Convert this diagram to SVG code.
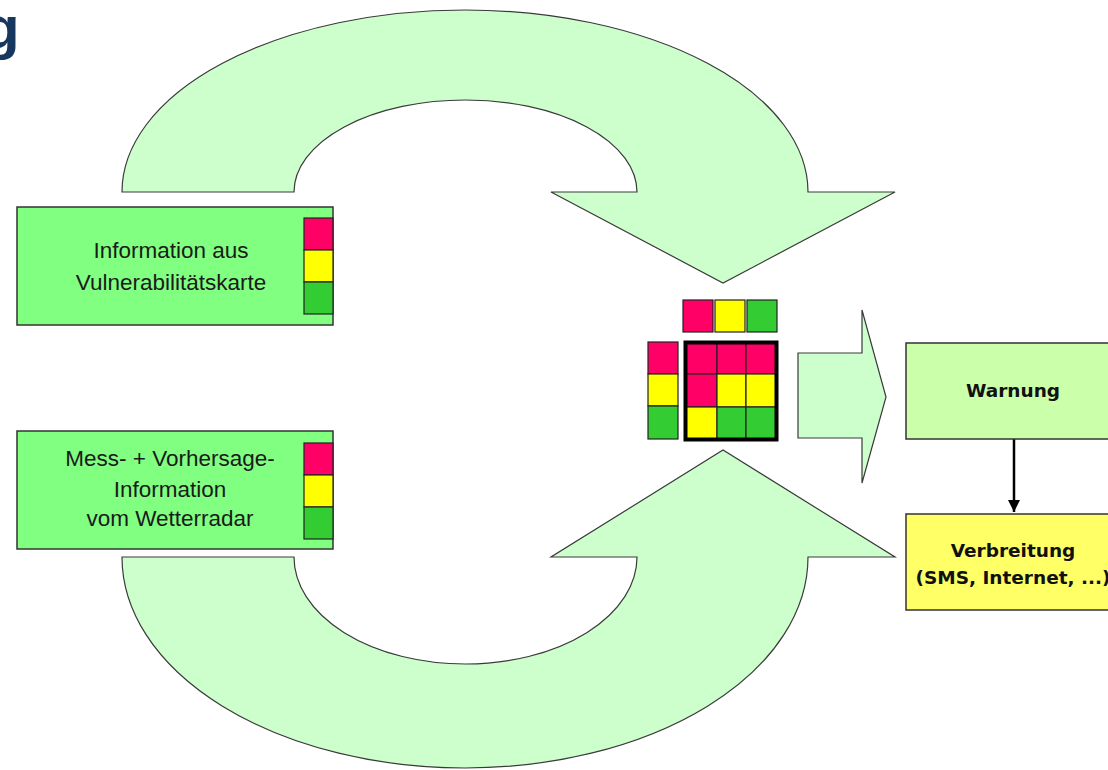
<svg xmlns="http://www.w3.org/2000/svg" width="1108" height="770" viewBox="0 0 1108 770">
<defs>
<style>
.arrow{fill:#CCFFCC;stroke:#3a3a3a;stroke-width:1.2}
.src{fill:#80FF80;stroke:#333;stroke-width:1.5}
.r{fill:#FF0066;stroke:#222;stroke-width:1.2}
.y{fill:#FFFF00;stroke:#222;stroke-width:1.2}
.g{fill:#33CC33;stroke:#222;stroke-width:1.2}
.lbl{font-family:"Liberation Sans",Arial,sans-serif;font-size:22.5px;fill:#1a1a1a;text-anchor:middle}
.bold{font-family:"DejaVu Sans",Verdana,sans-serif;font-weight:bold;font-size:18.5px;fill:#111;text-anchor:middle}
</style>
<marker id="ah" viewBox="0 0 10 10" refX="10" refY="5" markerWidth="5" markerHeight="5" orient="auto" markerUnits="strokeWidth">
<path d="M0,0 L10,5 L0,10 Z" fill="#000"/>
</marker>
</defs>
<rect width="1108" height="770" fill="#fff"/>
<text x="-17" y="48" font-family="Liberation Sans,Arial,sans-serif" font-weight="bold" font-size="60" fill="#17375E">g</text>

<g id="arrows">
<path id="top-arrow" class="arrow" d="M122 192 A343 182 0 0 1 808 192 L895 192 L723 283 L551 192 L637 192 A171.5 92 0 0 0 294 192 Z"/>
<path id="bottom-arrow" class="arrow" d="M122 557 A343 211 0 0 0 808 557 L895 557 L723 450 L551 557 L637 557 A171.5 107 0 0 1 294 557 Z"/>
<path id="right-arrow" class="arrow" d="M798 353 L862 353 L862 310 L886 397 L862 483 L862 438 L798 438 Z"/>
<line x1="1014" y1="439" x2="1014" y2="512" stroke="#000" stroke-width="2.5" marker-end="url(#ah)"/>
</g>

<g id="vuln">
<rect class="src" x="17" y="207" width="316" height="118"/>
<rect class="r" x="304" y="218" width="29" height="32"/>
<rect class="y" x="304" y="250" width="29" height="32"/>
<rect class="g" x="304" y="282" width="29" height="32"/>
<text class="lbl" x="171" y="258">Information aus</text>
<text class="lbl" x="171" y="290">Vulnerabilitätskarte</text>
</g>

<g id="radar">
<rect class="src" x="17" y="431" width="316" height="118"/>
<rect class="r" x="304" y="443" width="29" height="32"/>
<rect class="y" x="304" y="475" width="29" height="32"/>
<rect class="g" x="304" y="507" width="29" height="32"/>
<text class="lbl" x="170" y="466">Mess- + Vorhersage-</text>
<text class="lbl" x="170" y="497">Information</text>
<text class="lbl" x="170" y="526">vom Wetterradar</text>
</g>

<g id="matrix">
<rect class="r" x="683" y="300" width="30" height="32"/>
<rect class="y" x="715" y="300" width="30" height="32"/>
<rect class="g" x="747" y="300" width="30" height="32"/>
<rect class="r" x="648" y="342" width="30" height="32"/>
<rect class="y" x="648" y="374" width="30" height="32"/>
<rect class="g" x="648" y="406" width="30" height="33"/>
<rect class="r" x="686" y="343" width="31" height="31"/>
<rect class="r" x="717" y="343" width="29" height="31"/>
<rect class="r" x="746" y="343" width="30" height="31"/>
<rect class="r" x="686" y="374" width="31" height="33"/>
<rect class="y" x="717" y="374" width="29" height="33"/>
<rect class="y" x="746" y="374" width="30" height="33"/>
<rect class="y" x="686" y="407" width="31" height="32"/>
<rect class="g" x="717" y="407" width="29" height="32"/>
<rect class="g" x="746" y="407" width="30" height="32"/>
<rect x="685.5" y="342.5" width="91" height="97" fill="none" stroke="#000" stroke-width="4"/>
</g>

<g id="warnung">
<rect x="906" y="343" width="220" height="96" fill="#CCFFAA" stroke="#333" stroke-width="1.5"/>
<text class="bold" x="1013" y="397">Warnung</text>
</g>

<g id="verbreitung">
<rect x="906" y="514" width="220" height="96" fill="#FFFF66" stroke="#333" stroke-width="1.5"/>
<text class="bold" x="1013" y="557">Verbreitung</text>
<text class="bold" x="1013" y="584">(SMS, Internet, ...)</text>
</g>
</svg>
